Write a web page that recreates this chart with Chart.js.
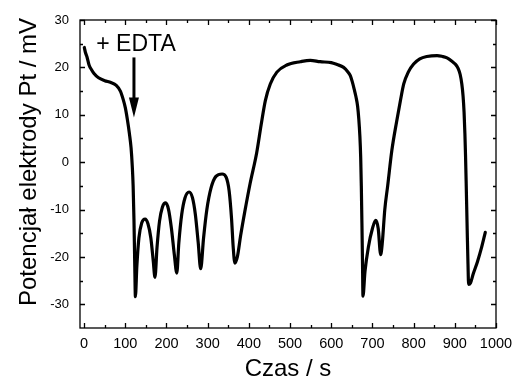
<!DOCTYPE html>
<html>
<head>
<meta charset="utf-8">
<script src="https://cdn.jsdelivr.net/npm/chart.js@4/dist/chart.umd.min.js"></script>
<style>
  html, body { margin: 0; padding: 0; background: #fff; }
  #wrap { width: 513px; height: 378px; }
</style>
</head>
<body>
<div id="wrap"><canvas id="pt-chart" width="513" height="378"></canvas></div>
<script>
/* ---- DATA ---- */
const TIME_S = [
  0.5, 3, 7, 12, 18, 24, 35, 50, 65, 78, 88, 95, 100, 105, 110, 114, 117, 119, 121, 123, 124.5,
  128, 133, 140, 148, 155, 162, 168, 172,
  177, 183, 190, 198, 205, 212, 219, 225,
  230, 237, 245, 255, 263, 270, 277, 283,
  290, 298, 308, 320, 335, 345, 352, 358, 362, 366,
  372, 380, 390, 403, 419, 430, 440, 452, 468, 492, 525, 549, 573, 600, 614, 630, 640, 646, 651, 656, 660, 664, 667, 669.5, 671.5, 673, 674.5, 676, 677,
  682, 690, 700, 708, 714, 720, 724, 730, 737, 747, 759, 768, 776, 787, 800, 815, 832, 857, 870, 881, 893, 901, 908, 913, 917, 920, 922.5, 924.5, 926, 927.5, 929, 930.5, 932, 933.5,
  938, 945, 955, 965, 974,
];
const POTENTIAL_MV = [
  24.2, 23.2, 22.2, 20.5, 19.5, 18.7, 17.8, 17.2, 16.8, 16.2, 15, 13.2, 11.5, 9, 6, 3, -1, -5, -12, -22, -28.4,
  -22, -16, -12.8, -12, -13, -16, -21, -24.3,
  -18, -12.5, -9.5, -8.6, -10, -14, -19.5, -23.4,
  -17, -11, -7.5, -6.3, -7.5, -11, -17, -22.5,
  -16, -10, -5.5, -3, -2.5, -3.2, -6, -12, -18, -21.3,
  -20, -15.5, -10.5, -4.5, 2, 8, 13, 16.5, 19, 20.5, 21.2, 21.5, 21.2, 21, 20.6, 20, 19.1, 18.3, 17, 15.3, 13.8, 11.8, 9, 5.5, 1, -5, -13, -22, -28.3,
  -23, -18, -14, -12.3, -14, -19.5, -17, -10, -5, 2.4, 8.7, 13, 16.5, 19, 20.7, 21.8, 22.3, 22.5, 22.3, 22, 21.3, 20.7, 19.8, 18.5, 16.5, 14, 10.5, 6, 1.5, -4, -10, -16, -21.5, -25.8,
  -25.5, -23.5, -21, -18, -14.8,
];
const X_TICKS = [0, 100, 200, 300, 400, 500, 600, 700, 800, 900, 1000];
const Y_TICKS = [-30, -20, -10, 0, 10, 20, 30];
const X_RANGE = [-10, 1000];
const Y_RANGE = [-35, 30];

const X_TITLE = 'Czas / s';
const Y_TITLE = 'Potencjał elektrody Pt / mV';
const EDTA_LABEL = '+ EDTA';
const EDTA_TEXT_AT = [126, 23.5];          // data coords (x, baseline y)
const EDTA_ARROW = [121, 22.1, 9.4];       // x, y from, y to

const FONT = 'Liberation Sans, Arial, Helvetica, sans-serif';

// ---- FRAME, INWARD TICKS, TITLES, ANNOTATION ----
const frameTicks = {
  id: 'frameTicks',
  afterDraw(chart) {
    const { ctx, chartArea: a, scales: { x, y } } = chart;
    ctx.save();
    ctx.strokeStyle = '#000';
    ctx.lineWidth = 1.3;
    ctx.strokeRect(a.left, a.top, a.right - a.left, a.bottom - a.top);

    const MAJ = 5, MIN = 3;
    ctx.beginPath();
    const xs = [];
    X_TICKS.forEach((v, i) => {
      xs.push([v, MAJ]);
      if (i < X_TICKS.length - 1) xs.push([(v + X_TICKS[i + 1]) / 2, MIN]);
    });
    xs.forEach(([v, len]) => {
      const px = Math.round(x.getPixelForValue(v)) + 0.5;
      ctx.moveTo(px, a.bottom); ctx.lineTo(px, a.bottom - len);
      ctx.moveTo(px, a.top); ctx.lineTo(px, a.top + len);
    });
    const ys = [];
    Y_TICKS.forEach((v, i) => {
      ys.push([v, MAJ]);
      if (i < Y_TICKS.length - 1) ys.push([(v + Y_TICKS[i + 1]) / 2, MIN]);
    });
    ys.forEach(([v, len]) => {
      const py = Math.round(y.getPixelForValue(v)) + 0.5;
      ctx.moveTo(a.left, py); ctx.lineTo(a.left + len, py);
      ctx.moveTo(a.right, py); ctx.lineTo(a.right - len, py);
    });
    ctx.stroke();

    // axis titles
    ctx.fillStyle = '#000';
    ctx.font = `24px ${FONT}`;
    ctx.textAlign = 'center';
    ctx.textBaseline = 'alphabetic';
    ctx.fillText(X_TITLE, (a.left + a.right) / 2, 376);
    ctx.save();
    ctx.translate(36, 162);
    ctx.rotate(-Math.PI / 2);
    ctx.fillText(Y_TITLE, 0, 0);
    ctx.restore();

    // + EDTA annotation
    ctx.font = `23px ${FONT}`;
    ctx.fillText(EDTA_LABEL, x.getPixelForValue(EDTA_TEXT_AT[0]), y.getPixelForValue(EDTA_TEXT_AT[1]));
    const ax = x.getPixelForValue(EDTA_ARROW[0]);
    const ay0 = y.getPixelForValue(EDTA_ARROW[1]);
    const ay1 = y.getPixelForValue(EDTA_ARROW[2]);
    ctx.lineWidth = 3;
    ctx.beginPath();
    ctx.moveTo(ax, ay0); ctx.lineTo(ax, ay1 - 14);
    ctx.stroke();
    ctx.beginPath();
    ctx.moveTo(ax - 5, ay1 - 20);
    ctx.lineTo(ax + 5, ay1 - 20);
    ctx.lineTo(ax, ay1);
    ctx.closePath();
    ctx.fill();
    ctx.restore();
  },
};

const ctx = document.getElementById('pt-chart').getContext('2d');
new Chart(ctx, {
  type: 'line',
  data: {
    datasets: [{
      data: TIME_S.map((t, i) => ({ x: t, y: POTENTIAL_MV[i] })),
      borderColor: '#000',
      borderWidth: 3.2,
      borderJoinStyle: 'round',
      borderCapStyle: 'round',
      cubicInterpolationMode: 'monotone',
      pointRadius: 0,
      fill: false,
    }],
  },
  options: {
    responsive: false,
    animation: false,
    layout: { padding: { left: 0, right: 17, top: 20, bottom: 0 } },
    plugins: { legend: { display: false }, tooltip: { enabled: false } },
    scales: {
      x: {
        type: 'linear',
        min: X_RANGE[0],
        max: X_RANGE[1],
        afterBuildTicks: s => { s.ticks = X_TICKS.map(v => ({ value: v })); },
        afterFit: s => { s.height = 50; s.paddingLeft = 0; s.paddingRight = 0; },
        grid: { display: false, drawTicks: false },
        border: { display: false },
        ticks: { color: '#000', font: { family: FONT, size: 14.5 }, padding: 7, maxRotation: 0, autoSkip: false, callback: v => String(v) },
      },
      y: {
        type: 'linear',
        min: Y_RANGE[0],
        max: Y_RANGE[1],
        afterBuildTicks: s => { s.ticks = Y_TICKS.map(v => ({ value: v })); },
        afterFit: s => { s.width = 80; s.paddingTop = 0; s.paddingBottom = 0; },
        grid: { display: false, drawTicks: false },
        border: { display: false },
        ticks: { color: '#000', font: { family: FONT, size: 13 }, padding: 11, callback: v => String(v) },
      },
    },
  },
  plugins: [frameTicks],
});
</script>
</body>
</html>
